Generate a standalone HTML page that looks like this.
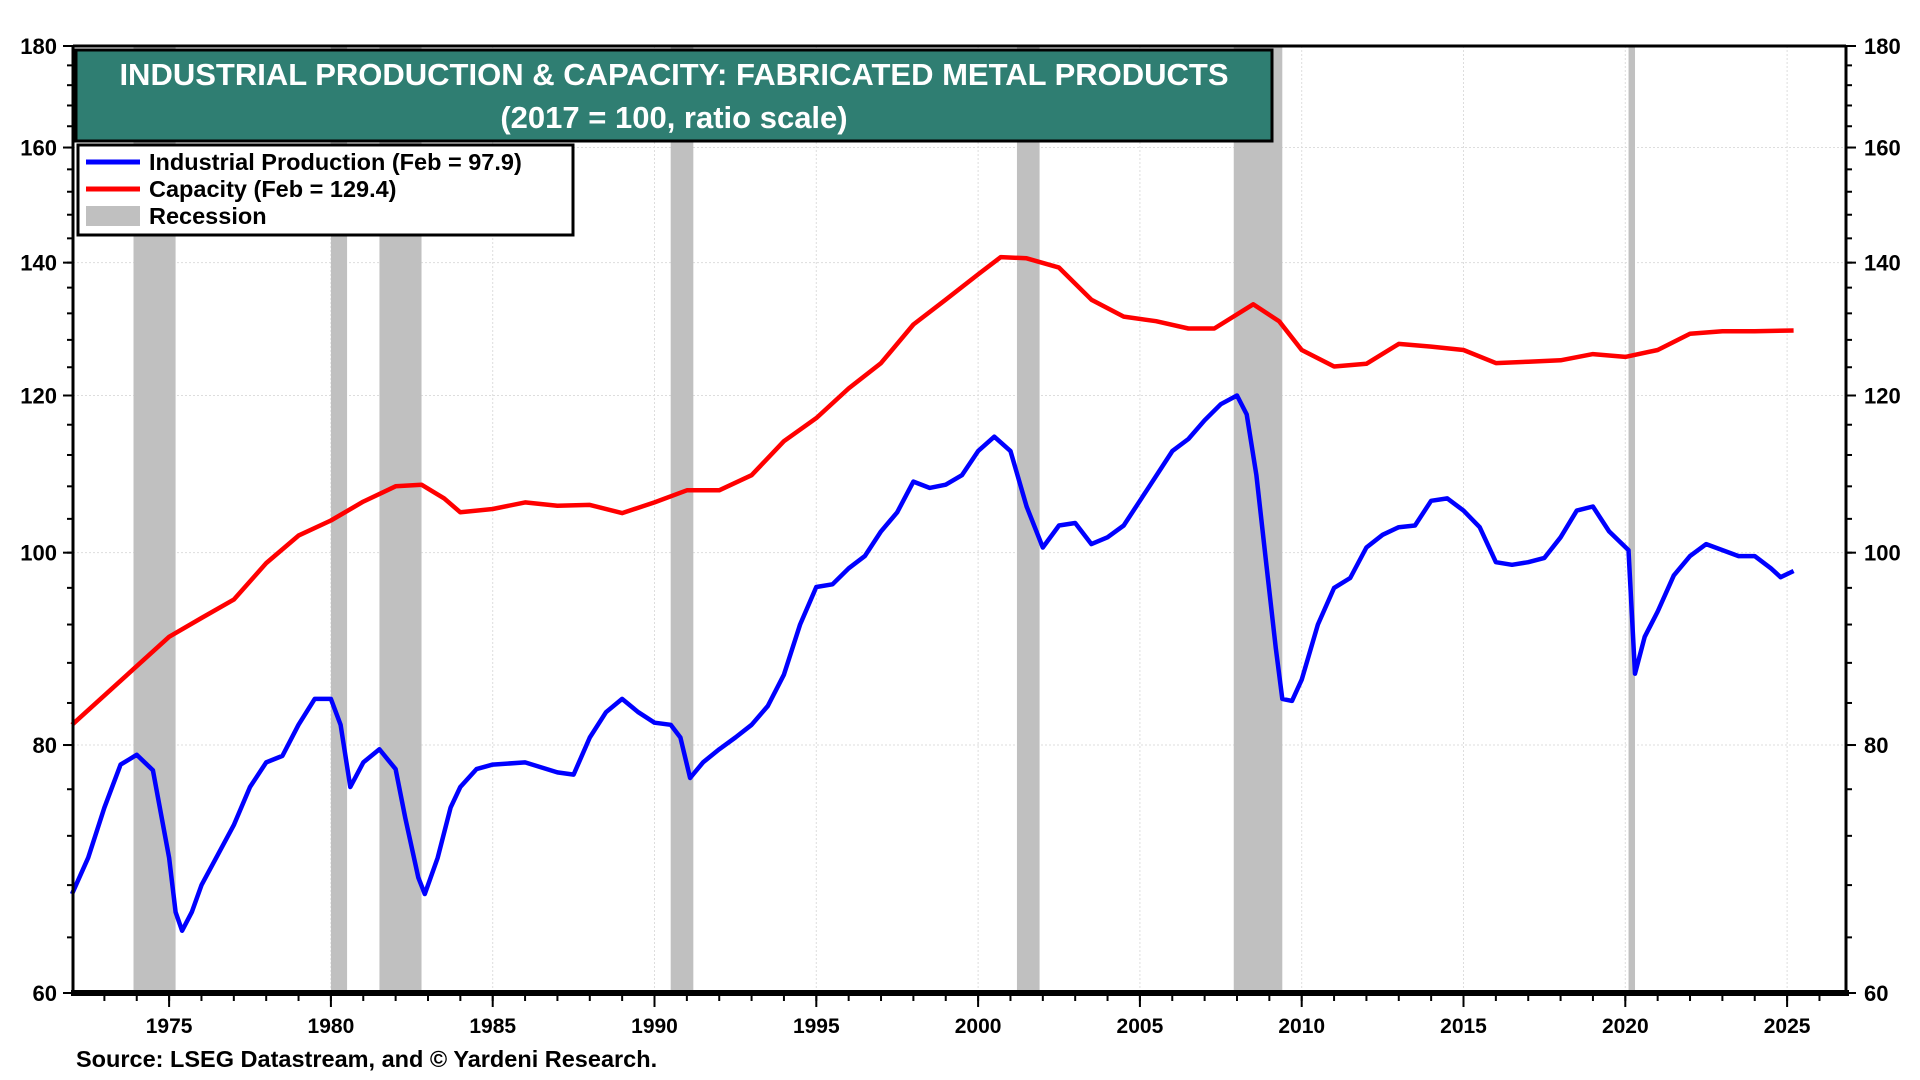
<!DOCTYPE html>
<html><head><meta charset="utf-8">
<style>
html,body{margin:0;padding:0;background:#fff;}
svg{display:block;font-family:"Liberation Sans",Arial,sans-serif;}
</style></head>
<body>
<svg id="chart" width="1920" height="1080" viewBox="0 0 1920 1080" xmlns="http://www.w3.org/2000/svg">
<rect x="0" y="0" width="1920" height="1080" fill="#fff"/>
<g id="grid"></g>
<g id="rec"></g>
<g id="series"></g>
<g id="axes"></g>
<g>
<rect x="76" y="50" width="1196" height="91" fill="#2f7e72" stroke="#000" stroke-width="3"/>
<text x="674" y="85" text-anchor="middle" fill="#fff" font-size="31" font-weight="bold">INDUSTRIAL PRODUCTION &amp; CAPACITY: FABRICATED METAL PRODUCTS</text>
<text x="674" y="128" text-anchor="middle" fill="#fff" font-size="31" font-weight="bold">(2017 = 100, ratio scale)</text>
</g>
<g>
<rect x="78" y="145" width="495" height="90" fill="#fff" stroke="#000" stroke-width="3"/>
<g>
<line x1="86" y1="162" x2="140" y2="162" stroke="#0000ff" stroke-width="5"/>
<text x="149" y="170" font-size="23.5" font-weight="bold">Industrial Production (Feb = 97.9)</text></g>
<g>
<line x1="86" y1="189" x2="140" y2="189" stroke="#ff0000" stroke-width="5"/>
<text x="149" y="197" font-size="23.5" font-weight="bold">Capacity (Feb = 129.4)</text></g>
<g>
<rect x="86" y="206" width="54" height="20" fill="#c0c0c0"/>
<text x="149" y="224" font-size="23.5" font-weight="bold">Recession</text></g>
</g>
<text x="76" y="1067" font-size="23.5" font-weight="bold">Source: LSEG Datastream, and © Yardeni Research.</text>
</svg>
<script>
const yTicks=[60,80,100,120,140,160,180];
const xTickYears=[1975,1980,1985,1990,1995,2000,2005,2010,2015,2020,2025];
const recStart=[1973.9,1980.0,1981.5,1990.5,2001.2,2007.9,2020.1];
const recEnd=[1975.2,1980.5,1982.8,1991.2,2001.9,2009.4,2020.3];
const capYears=[1972,1975,1976,1977,1978,1979,1980,1981,1982,1982.8,1983.5,1984,1985,1986,1987,1988,1989,1990,1991,1992,1993,1994,1995,1996,1997,1998,1999,2000,2000.7,2001.5,2002.5,2003.5,2004.5,2005.5,2006.5,2007.3,2008.5,2009.3,2010,2011,2012,2013,2014,2015,2016,2017,2018,2019,2020,2021,2022,2023,2024,2025.2];
const capValues=[81.9,90.7,92.7,94.7,98.8,102,103.8,106.1,108,108.2,106.5,104.8,105.2,106,105.6,105.7,104.7,106,107.5,107.5,109.4,113.8,116.9,121,124.6,130.3,134.1,138.1,140.9,140.7,139.2,134.1,131.5,130.8,129.7,129.7,133.4,130.8,126.5,124.1,124.5,127.4,127,126.5,124.6,124.8,125,125.9,125.5,126.5,128.9,129.3,129.3,129.4];
const ipYears=[1972,1972.5,1973,1973.5,1974,1974.5,1975,1975.2,1975.4,1975.7,1976,1976.5,1977,1977.5,1978,1978.5,1979,1979.5,1980,1980.3,1980.6,1981,1981.5,1982,1982.3,1982.7,1982.9,1983.3,1983.7,1984,1984.5,1985,1986,1987,1987.5,1988,1988.5,1989,1989.5,1990,1990.5,1990.8,1991.1,1991.5,1992,1992.5,1993,1993.5,1994,1994.5,1995,1995.5,1996,1996.5,1997,1997.5,1998,1998.5,1999,1999.5,2000,2000.5,2001,2001.5,2002,2002.5,2003,2003.5,2004,2004.5,2005,2005.5,2006,2006.5,2007,2007.5,2008,2008.3,2008.6,2008.9,2009.2,2009.4,2009.7,2010,2010.5,2011,2011.5,2012,2012.5,2013,2013.5,2014,2014.5,2015,2015.5,2016,2016.5,2017,2017.5,2018,2018.5,2019,2019.5,2020.1,2020.3,2020.6,2021,2021.5,2022,2022.5,2023,2023.5,2024,2024.5,2024.8,2025.2];
const ipValues=[67.3,70.2,74.4,78.2,79.1,77.7,70.2,65.9,64.5,65.9,68,70.4,72.9,76.2,78.4,79,81.9,84.4,84.4,81.9,76.2,78.4,79.6,77.8,73.5,68.6,67.3,70.2,74.4,76.2,77.8,78.2,78.4,77.5,77.3,80.7,83.1,84.4,83.1,82.1,81.9,80.7,77,78.4,79.6,80.7,81.9,83.7,86.8,92,96.1,96.4,98.2,99.6,102.5,104.8,108.6,107.8,108.2,109.4,112.5,114.4,112.5,105.5,100.6,103.2,103.5,101,101.8,103.2,106.2,109.3,112.5,114.1,116.6,118.8,120,117.4,109.4,98.9,89.5,84.4,84.2,86.3,92,96,97.1,100.6,102.1,103,103.2,106.2,106.5,105,103,98.9,98.6,98.9,99.4,101.8,105,105.5,102.5,100.3,86.9,90.7,93.4,97.4,99.6,101,100.3,99.6,99.6,98.2,97.2,97.9];

const NS='http://www.w3.org/2000/svg';
const L=73,R=1846,T=46,B=993;
const x0=1972.03,x1=2026.82;
function X(yr){return L+(yr-x0)/(x1-x0)*(R-L);}
function Y(v){return T+Math.log(180/v)/Math.log(3)*(B-T);}
function mk(tag,attrs,parent){const e=document.createElementNS(NS,tag);for(const k in attrs)e.setAttribute(k,attrs[k]);parent.appendChild(e);return e;}
const grid=document.getElementById('grid'),rec=document.getElementById('rec'),ser=document.getElementById('series'),ax=document.getElementById('axes');
yTicks.forEach(v=>{const l=mk('line',{x1:L,x2:R,y1:Y(v),y2:Y(v),stroke:'#ddd','stroke-width':1,'stroke-dasharray':'2,2'},grid);

});
xTickYears.forEach(yr=>{const l=mk('line',{x1:X(yr),x2:X(yr),y1:T,y2:B,stroke:'#ddd','stroke-width':1,'stroke-dasharray':'2,2'},grid);

});
recStart.forEach((s,i)=>{const r=mk('rect',{x:X(s),y:T,width:Math.max(3,X(recEnd[i])-X(s)),height:B-T,fill:'#c0c0c0'},rec);

});
function path(xs,vs,color,name){let d='';xs.forEach((yr,i)=>{d+=(i?'L':'M')+X(yr).toFixed(1)+','+Y(vs[i]).toFixed(1);});
const p=mk('path',{d:d,fill:'none',stroke:color,'stroke-width':4.5,'stroke-linejoin':'round'},ser);

}
path(capYears,capValues,'#ff0000','capacity-line');
path(ipYears,ipValues,'#0000ff','industrial-production-line');
mk('line',{x1:L,x2:R,y1:T,y2:T,stroke:'#000','stroke-width':3},ax);
mk('line',{x1:L,x2:L,y1:T,y2:B,stroke:'#000','stroke-width':3},ax);
mk('line',{x1:R,x2:R,y1:T,y2:B,stroke:'#000','stroke-width':3},ax);
mk('line',{x1:L-2,x2:R+3,y1:B,y2:B,stroke:'#000','stroke-width':6},ax);
for(let v=60;v<=180;v+=4){mk('line',{x1:L-6,x2:L,y1:Y(v),y2:Y(v),stroke:'#000','stroke-width':2},ax);mk('line',{x1:R,x2:R+6,y1:Y(v),y2:Y(v),stroke:'#000','stroke-width':2},ax);}
yTicks.forEach(v=>{
mk('line',{x1:L-10,x2:L,y1:Y(v),y2:Y(v),stroke:'#000','stroke-width':2},ax);
mk('line',{x1:R,x2:R+10,y1:Y(v),y2:Y(v),stroke:'#000','stroke-width':2},ax);
const t=mk('text',{x:L-16,y:Y(v)+8,'text-anchor':'end','font-size':22,'font-weight':'bold'},ax);t.textContent=v;


const t2=mk('text',{x:R+18,y:Y(v)+8,'text-anchor':'start','font-size':22,'font-weight':'bold'},ax);t2.textContent=v;

});
for(let yr=1973;yr<=2026;yr++){mk('line',{x1:X(yr),x2:X(yr),y1:B,y2:B+8,stroke:'#000','stroke-width':2},ax);}
xTickYears.forEach(yr=>{mk('line',{x1:X(yr),x2:X(yr),y1:B,y2:B+14,stroke:'#000','stroke-width':2},ax);
const t=mk('text',{x:X(yr),y:B+40,'text-anchor':'middle','font-size':21,'font-weight':'bold'},ax);t.textContent=yr;

});
</script>
</body></html>
